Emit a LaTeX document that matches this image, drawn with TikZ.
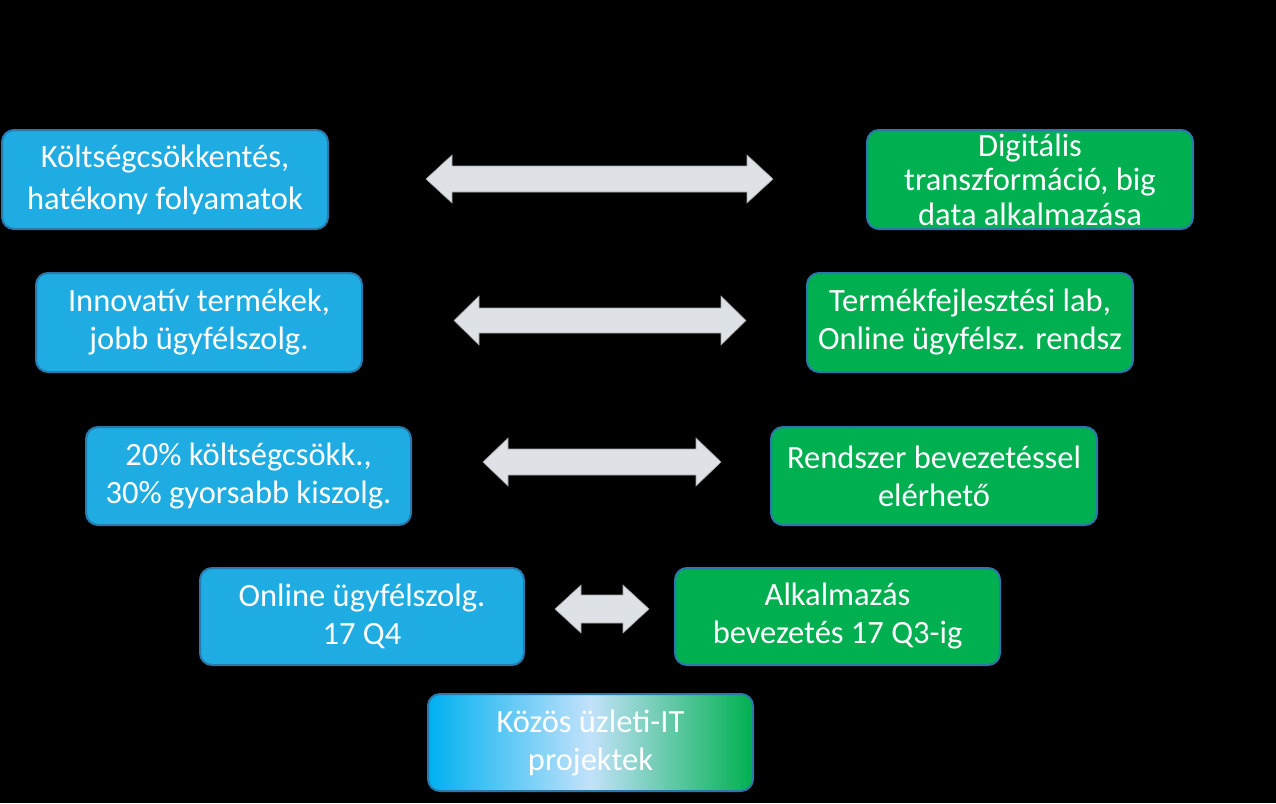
\documentclass[tikz,border=0pt]{standalone}
\usepackage{fontspec}
\setmainfont{Carlito}
\usetikzlibrary{calc}
\definecolor{bluefill}{HTML}{1EACE3}
\definecolor{blueedge}{HTML}{2A79AA}
\definecolor{greenfill}{HTML}{00B050}
\definecolor{gradleft}{HTML}{00B0F0}
\definecolor{gradmid}{HTML}{C2E2FB}
\definecolor{arrowfill}{HTML}{DEE2E6}
\definecolor{arrowedge}{HTML}{9EA2A6}
\tikzset{
  box/.style={draw=blueedge, line width=2pt, rounded corners=12pt, text=white,
    align=center, inner sep=0pt, font=\fontsize{32.5}{38}\selectfont},
  bluebox/.style={box, fill=bluefill},
  greenbox/.style={box, fill=greenfill},
  gradbox/.style={box, left color=gradleft, right color=greenfill, middle color=gradmid},
  fatarrow/.style={fill=arrowfill, draw=arrowedge, line width=0.6pt, line join=miter},
}
% #1 left coord, #2 right coord, #3 head length, #4 half head width, #5 half shaft width
\newcommand{\dblarrow}[5]{%
  \draw[fatarrow] (#1)
    -- ($(#1)+(#3,-#4)$) -- ($(#1)+(#3,-#5)$)
    -- ($(#2)+(-#3,-#5)$) -- ($(#2)+(-#3,-#4)$)
    -- (#2)
    -- ($(#2)+(-#3,#4)$) -- ($(#2)+(-#3,#5)$)
    -- ($(#1)+(#3,#5)$) -- ($(#1)+(#3,#4)$) -- cycle;}
\begin{document}
\begin{tikzpicture}[x=1pt, y=-1pt]
  \fill[black] (0,0) rectangle (1276,803);
  \useasboundingbox (0,0) rectangle (1276,803);

  \node[bluebox, minimum width=326pt, minimum height=99pt,
        font=\fontsize{32.5}{42}\selectfont] (b1) at (165,179.5)
        {Költségcsökkentés,\\hatékony folyamatok};
  \node[greenbox, minimum width=326pt, minimum height=99pt,
        font=\fontsize{32.5}{34.5}\selectfont] (g1) at (1030,179.5)
        {Digitális\\transzformáció, big\\data alkalmazása};

  \node[bluebox, minimum width=326pt, minimum height=99pt] (b2) at (199,322.5)
        {Innovatív termékek,\\jobb ügyfélszolg.};
  \node[greenbox, minimum width=326pt, minimum height=99pt] (g2) at (970,322.5)
        {Termékfejlesztési lab,\\Online ügyfélsz. rendsz};

  \node[bluebox, minimum width=325pt, minimum height=98pt] (b3) at (248.5,476)
        {20\% költségcsökk.,\\30\% gyorsabb kiszolg.};
  \node[greenbox, minimum width=326pt, minimum height=98pt] (g3) at (934,476)
        {Rendszer bevezetéssel\\elérhető};

  \node[bluebox, minimum width=324pt, minimum height=97pt] (b4) at (362,616.5)
        {Online ügyfélszolg.\\17 Q4};
  \node[greenbox, minimum width=325pt, minimum height=97pt] (g4) at (837.5,616.5)
        {Alkalmazás\\bevezetés 17 Q3-ig};

  \node[gradbox, minimum width=325pt, minimum height=97pt] (p) at (590.5,742.5)
        {Közös üzleti-IT\\projektek};

  \coordinate (a1l) at (426,179);   \coordinate (a1r) at (773,179);
  \coordinate (a2l) at (454,320.5); \coordinate (a2r) at (746,320.5);
  \coordinate (a3l) at (483,462);   \coordinate (a3r) at (721,462);
  \coordinate (a4l) at (555,609);   \coordinate (a4r) at (649,609);
  \dblarrow{a1l}{a1r}{26}{24}{13}
  \dblarrow{a2l}{a2r}{25}{24.5}{12.5}
  \dblarrow{a3l}{a3r}{25}{24}{13}
  \dblarrow{a4l}{a4r}{26}{24}{14}
\end{tikzpicture}
\end{document}
